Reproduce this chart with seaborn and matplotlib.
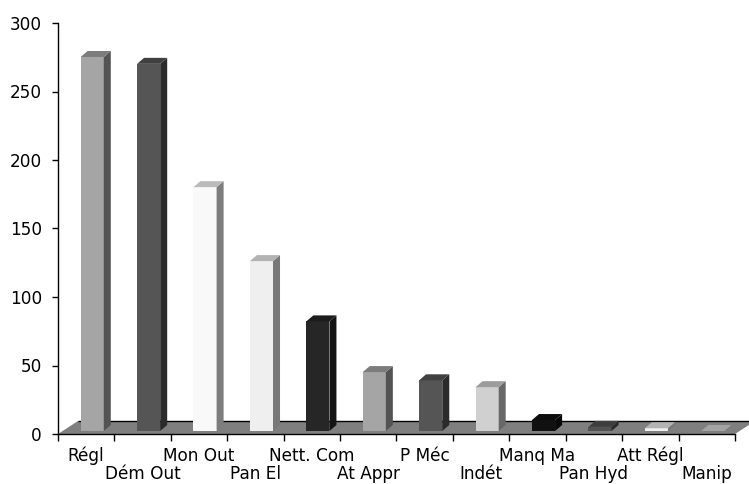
import numpy as np
import pandas as pd
import seaborn as sns
import matplotlib
matplotlib.use("Agg")
import matplotlib.pyplot as plt
from matplotlib.patches import Polygon
from matplotlib.transforms import offset_copy, blended_transform_factory
from matplotlib.colors import to_rgb

# Failure categories and counts
categories = ["Régl", "Dém Out", "Mon Out", "Pan El", "Nett. Com", "At Appr",
              "P Méc", "Indét", "Manq Ma", "Pan Hyd", "Att Régl", "Manip"]
counts = [273, 268, 178, 124, 80, 43, 37, 32, 8, 3, 2, 0]
y_ticks = [0, 50, 100, 150, 200, 250, 300]

# Front-face grey for each column
front_colors = ["#a5a5a5", "#555555", "#f9f9f9", "#efefef", "#262626", "#a5a5a5",
                "#555555", "#d0d0d0", "#111111", "#525252", "#f0f0f0", "#dadada"]

sns.set_theme(style="white")
plt.rcParams["font.family"] = ["DejaVu Sans"]
FS = 12.2

W, H, DPI = 749, 484, 100
fig = plt.figure(figsize=(W / DPI, H / DPI), dpi=DPI)
ax_l, ax_r, ax_b, ax_t = 58, 735, 434, 23
ax = fig.add_axes([ax_l / W, (H - ax_b) / H, (ax_r - ax_l) / W, (ax_b - ax_t) / H])

df = pd.DataFrame({"cat": categories, "n": counts})
sns.barplot(data=df, x="cat", y="n", hue="cat", palette=front_colors, legend=False,
            width=0.41, saturation=1, linewidth=0, ax=ax, zorder=3)

ax.set_xlim(-0.5, len(categories) - 0.5)
ax.set_ylim(0, 300)

# pixel -> data unit conversion for the pseudo-3D depth
px_x = (len(categories)) / (ax_r - ax_l)
px_y = 300 / (ax_b - ax_t)

# floor slab
floor_dx, floor_dy = 20 * px_x, 13 * px_y
x0, x1 = -0.5, len(categories) - 0.5
floor = Polygon([(x0, 0), (x1, 0), (x1 + floor_dx, floor_dy), (x0 + floor_dx, floor_dy)],
                closed=True, facecolor="#7f7f7f", edgecolor="none", zorder=1,
                clip_on=False)
ax.add_patch(floor)
ax.plot([x0 + floor_dx, x1 + floor_dx], [floor_dy, floor_dy], color="black", lw=1.0,
        zorder=1.5, clip_on=False, solid_capstyle="butt")

# column faces: front from seaborn, top and side added with the same offset
shift = offset_copy(ax.transData, fig=fig, x=6, y=3, units="dots")
bar_dx, bar_dy = 7 * px_x, 6 * px_y


def shade(c, f):
    r, g, b = to_rgb(c)
    return (r * f, g * f, b * f)


for patch, col in zip(ax.patches[:len(categories)], front_colors):
    patch.set_transform(shift)
    patch.set_clip_on(False)
    bx0 = patch.get_x()
    bx1 = bx0 + patch.get_width()
    top = patch.get_height()
    z = patch.get_zorder()
    top_face = Polygon([(bx0, top), (bx1, top), (bx1 + bar_dx, top + bar_dy),
                        (bx0 + bar_dx, top + bar_dy)], closed=True,
                       facecolor=shade(col, 0.75), edgecolor="none",
                       transform=shift, zorder=z, clip_on=False)
    side_face = Polygon([(bx1, 0), (bx1, top), (bx1 + bar_dx, top + bar_dy),
                         (bx1 + bar_dx, bar_dy)], closed=True,
                        facecolor=shade(col, 0.5), edgecolor="none",
                        transform=shift, zorder=z, clip_on=False)
    ax.add_patch(side_face)
    ax.add_patch(top_face)

# axes styling
for s in ["top", "right"]:
    ax.spines[s].set_visible(False)
for s in ["left", "bottom"]:
    ax.spines[s].set_color("black")
    ax.spines[s].set_linewidth(1.0)
    ax.spines[s].set_zorder(5)

ax.set_yticks(y_ticks)
ax.tick_params(axis="y", which="major", left=True, length=4.5, width=1.0,
               color="black", pad=7, labelsize=FS, labelcolor="black")

# category boundaries carry the tick marks; names are staggered on two rows
ax.set_xticks(np.arange(len(categories) + 1) - 0.5)
ax.set_xticklabels([])
ax.tick_params(axis="x", which="major", bottom=True, length=5, width=1.0,
               color="black")
base = blended_transform_factory(ax.transData, ax.transAxes)
row1 = offset_copy(base, fig=fig, x=0, y=-27, units="dots")
row2 = offset_copy(base, fig=fig, x=0, y=-45, units="dots")
for i, c in enumerate(categories):
    ax.text(i, 0, c, transform=row1 if i % 2 == 0 else row2, ha="center",
            va="baseline", fontsize=FS, color="black", clip_on=False)

ax.set_xlabel("")
ax.set_ylabel("")
ax.grid(False)

fig.savefig("out.png", dpi=DPI)
